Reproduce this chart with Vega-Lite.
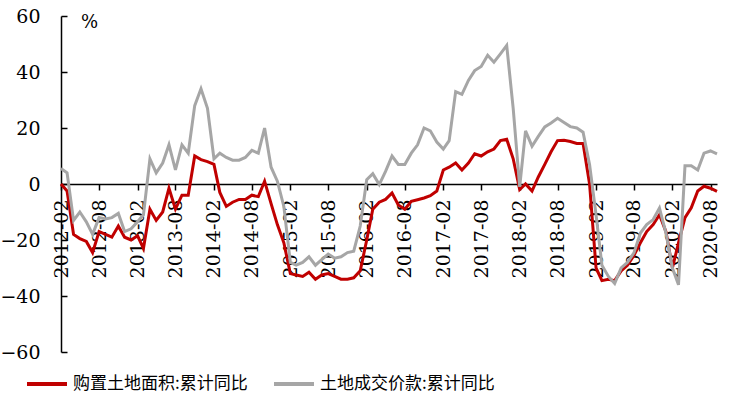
{
  "$schema": "https://vega.github.io/schema/vega-lite/v6.json",
  "width": 656,
  "height": 336,
  "autosize": "none",
  "padding": {"left": 61, "top": 16, "right": 17, "bottom": 50},
  "background": "white",
  "config": {"view": {"stroke": null}},
  "data": {"values": [
    {"date":"2012/02/01","area":0,"price":5.5},
    {"date":"2012/03/01","area":-2.5,"price":4},
    {"date":"2012/04/01","area":-18,"price":-13},
    {"date":"2012/05/01","area":-19.5,"price":-10},
    {"date":"2012/06/01","area":-20.5,"price":-13.5},
    {"date":"2012/07/01","area":-24.5,"price":-18},
    {"date":"2012/08/01","area":-17,"price":-12},
    {"date":"2012/09/01","area":-18,"price":-12.5},
    {"date":"2012/10/01","area":-19,"price":-12},
    {"date":"2012/11/01","area":-15,"price":-10.5},
    {"date":"2012/12/01","area":-19,"price":-17},
    {"date":"2013/01/01","area":-20,"price":-16},
    {"date":"2013/02/01","area":-18.5,"price":-13.5},
    {"date":"2013/03/01","area":-23,"price":-11},
    {"date":"2013/04/01","area":-9,"price":9},
    {"date":"2013/05/01","area":-13,"price":4},
    {"date":"2013/06/01","area":-10,"price":7.5},
    {"date":"2013/07/01","area":-1.5,"price":14},
    {"date":"2013/08/01","area":-9,"price":5},
    {"date":"2013/09/01","area":-4,"price":14},
    {"date":"2013/10/01","area":-4,"price":11},
    {"date":"2013/11/01","area":10,"price":28},
    {"date":"2013/12/01","area":8.7,"price":34},
    {"date":"2014/01/01","area":8,"price":27},
    {"date":"2014/02/01","area":7,"price":9},
    {"date":"2014/03/01","area":-3,"price":11},
    {"date":"2014/04/01","area":-8,"price":9.5},
    {"date":"2014/05/01","area":-6.5,"price":8.5},
    {"date":"2014/06/01","area":-5.5,"price":8.5},
    {"date":"2014/07/01","area":-5.5,"price":9.5},
    {"date":"2014/08/01","area":-4,"price":12},
    {"date":"2014/09/01","area":-4.5,"price":11},
    {"date":"2014/10/01","area":1,"price":20},
    {"date":"2014/11/01","area":-7,"price":6},
    {"date":"2014/12/01","area":-14.5,"price":1},
    {"date":"2015/01/01","area":-21,"price":-8},
    {"date":"2015/02/01","area":-32,"price":-28},
    {"date":"2015/03/01","area":-32.5,"price":-29},
    {"date":"2015/04/01","area":-33,"price":-28},
    {"date":"2015/05/01","area":-31.5,"price":-26},
    {"date":"2015/06/01","area":-34,"price":-29},
    {"date":"2015/07/01","area":-32.5,"price":-27},
    {"date":"2015/08/01","area":-32,"price":-25},
    {"date":"2015/09/01","area":-33,"price":-26.5},
    {"date":"2015/10/01","area":-34,"price":-26},
    {"date":"2015/11/01","area":-34,"price":-24.5},
    {"date":"2015/12/01","area":-33.5,"price":-24},
    {"date":"2016/01/01","area":-31,"price":-15},
    {"date":"2016/02/01","area":-20,"price":1.5},
    {"date":"2016/03/01","area":-9,"price":3.7},
    {"date":"2016/04/01","area":-6.5,"price":-0.2},
    {"date":"2016/05/01","area":-5.5,"price":4.5},
    {"date":"2016/06/01","area":-3.2,"price":10},
    {"date":"2016/07/01","area":-7.5,"price":7},
    {"date":"2016/08/01","area":-9,"price":7},
    {"date":"2016/09/01","area":-6.2,"price":11},
    {"date":"2016/10/01","area":-5.6,"price":14},
    {"date":"2016/11/01","area":-5,"price":20},
    {"date":"2016/12/01","area":-4.2,"price":19},
    {"date":"2017/01/01","area":-2.5,"price":15},
    {"date":"2017/02/01","area":5,"price":12.5},
    {"date":"2017/03/01","area":6,"price":15.5},
    {"date":"2017/04/01","area":7.5,"price":33},
    {"date":"2017/05/01","area":5,"price":32},
    {"date":"2017/06/01","area":7.5,"price":37},
    {"date":"2017/07/01","area":10.8,"price":40.5},
    {"date":"2017/08/01","area":10,"price":42},
    {"date":"2017/09/01","area":11.5,"price":46},
    {"date":"2017/10/01","area":12.5,"price":43.5},
    {"date":"2017/11/01","area":15.5,"price":46.5},
    {"date":"2017/12/01","area":16,"price":49.5},
    {"date":"2018/01/01","area":9,"price":27},
    {"date":"2018/02/01","area":-2,"price":-1},
    {"date":"2018/03/01","area":0,"price":19},
    {"date":"2018/04/01","area":-2.5,"price":13.5},
    {"date":"2018/05/01","area":2.5,"price":17},
    {"date":"2018/06/01","area":7,"price":20.4},
    {"date":"2018/07/01","area":11.5,"price":21.8},
    {"date":"2018/08/01","area":15.5,"price":23.5},
    {"date":"2018/09/01","area":15.6,"price":22},
    {"date":"2018/10/01","area":15.2,"price":20.5},
    {"date":"2018/11/01","area":14.5,"price":20},
    {"date":"2018/12/01","area":14.5,"price":18.5},
    {"date":"2019/01/01","area":0,"price":7},
    {"date":"2019/02/01","area":-30,"price":-11},
    {"date":"2019/03/01","area":-34.5,"price":-29},
    {"date":"2019/04/01","area":-34,"price":-33},
    {"date":"2019/05/01","area":-34.5,"price":-35.5},
    {"date":"2019/06/01","area":-31,"price":-30},
    {"date":"2019/07/01","area":-29,"price":-28},
    {"date":"2019/08/01","area":-25.5,"price":-24.6},
    {"date":"2019/09/01","area":-21,"price":-17.5},
    {"date":"2019/10/01","area":-17,"price":-14.5},
    {"date":"2019/11/01","area":-14.5,"price":-12.7},
    {"date":"2019/12/01","area":-11,"price":-8.6},
    {"date":"2020/01/01","area":-17,"price":-17.5},
    {"date":"2020/02/01","area":-30,"price":-30},
    {"date":"2020/03/01","area":-21,"price":-36},
    {"date":"2020/04/01","area":-12,"price":6.5},
    {"date":"2020/05/01","area":-8.5,"price":6.5},
    {"date":"2020/06/01","area":-2.5,"price":5},
    {"date":"2020/07/01","area":-0.8,"price":11},
    {"date":"2020/08/01","area":-1.5,"price":11.8},
    {"date":"2020/09/01","area":-2.6,"price":10.8}
  ]},
  "transform": [{"fold": ["area", "price"], "as": ["series", "value"]}],
  "mark": {"type": "line", "strokeWidth": 3, "interpolate": "linear"},
  "encoding": {
    "x": {
      "field": "date", "type": "temporal",
      "scale": {"domain": [{"year":2012,"month":2,"date":1},{"year":2020,"month":9,"date":1}], "nice": false},
      "axis": {
        "orient": "bottom", "offset": -168, "title": null, "grid": false,
        "values": [
          {"year":2012,"month":2,"date":1},{"year":2012,"month":8,"date":1},
          {"year":2013,"month":2,"date":1},{"year":2013,"month":8,"date":1},
          {"year":2014,"month":2,"date":1},{"year":2014,"month":8,"date":1},
          {"year":2015,"month":2,"date":1},{"year":2015,"month":8,"date":1},
          {"year":2016,"month":2,"date":1},{"year":2016,"month":8,"date":1},
          {"year":2017,"month":2,"date":1},{"year":2017,"month":8,"date":1},
          {"year":2018,"month":2,"date":1},{"year":2018,"month":8,"date":1},
          {"year":2019,"month":2,"date":1},{"year":2019,"month":8,"date":1},
          {"year":2020,"month":2,"date":1},{"year":2020,"month":8,"date":1}
        ],
        "format": "%Y-%m", "labelAngle": -90, "labelFont": "DejaVu Serif", "labelFontSize": 19,
        "labelColor": "black", "domainColor": "black", "domainWidth": 1.5, "tickColor": "black", "tickWidth": 1.5,
        "tickSize": 6, "labelPadding": 9, "labelOverlap": false, "labelFlush": false, "labelBound": false
      }
    },
    "y": {
      "field": "value", "type": "quantitative",
      "scale": {"domain": [-60, 60], "nice": false, "zero": false},
      "axis": {
        "values": [-60, -40, -20, 0, 20, 40, 60], "grid": false,
        "title": "%", "titleAngle": 0, "titleX": 28, "titleY": 6, "titleAlign": "center", "titleBaseline": "middle",
        "titleFont": "DejaVu Serif", "titleFontSize": 18, "titleFontWeight": "normal", "titleColor": "black",
        "labelFont": "DejaVu Serif", "labelFontSize": 19, "labelColor": "black",
        "domainColor": "black", "domainWidth": 1.5, "tickColor": "black", "tickWidth": 1.5,
        "tickSize": -6, "labelPadding": 27
      }
    },
    "color": {
      "field": "series", "type": "nominal",
      "scale": {"domain": ["area", "price"], "range": ["#C00000", "#A6A6A6"]},
      "legend": {
        "orient": "none", "legendX": -36, "legendY": 346, "direction": "horizontal", "title": null,
        "symbolType": "stroke", "symbolSize": 1600, "symbolStrokeWidth": 4,
        "labelFont": "Noto Sans CJK SC", "labelFontSize": 17, "labelColor": "black",
        "labelOffset": 4, "columnPadding": 18, "labelLimit": 400,
        "labelExpr": "datum.label == 'area' ? '购置土地面积:累计同比' : '土地成交价款:累计同比'"
      }
    }
  }
}
